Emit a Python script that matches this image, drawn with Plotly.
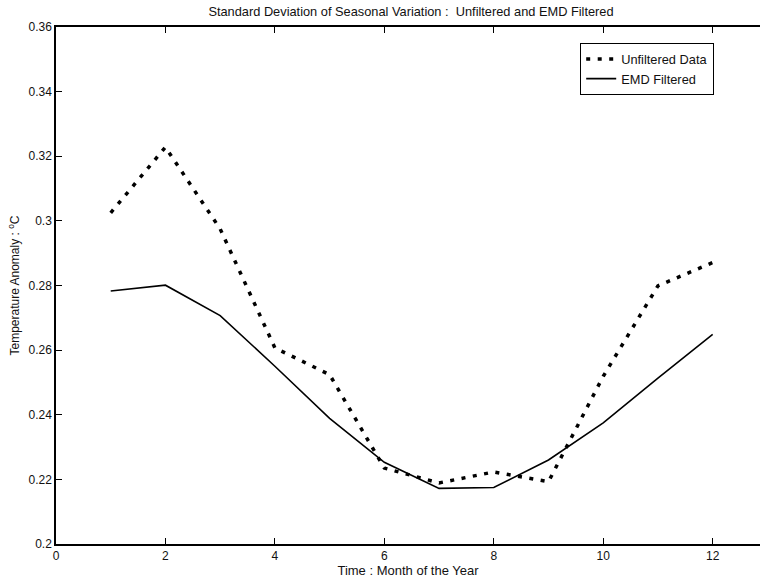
import plotly.graph_objects as go

months = [1, 2, 3, 4, 5, 6, 7, 8, 9, 10, 11, 12]
unfiltered = [0.3025, 0.3228, 0.2975, 0.2607, 0.2524, 0.2235, 0.2189, 0.2223, 0.2193, 0.2519, 0.2799, 0.2871]
emd_filtered = [0.2783, 0.2801, 0.2707, 0.2550, 0.2389, 0.2253, 0.2172, 0.2175, 0.2260, 0.2375, 0.2513, 0.2649]

x_ticks = [0, 2, 4, 6, 8, 10, 12]
y_ticks = [0.2, 0.22, 0.24, 0.26, 0.28, 0.3, 0.32, 0.34, 0.36]
y_ticklabels = ["0.2", "0.22", "0.24", "0.26", "0.28", "0.3", "0.32", "0.34", "0.36"]

FONT = "Liberation Sans, Arial, Helvetica, sans-serif"

fig = go.Figure()
fig.add_trace(go.Scatter(
    x=months, y=unfiltered, mode="lines", name="Unfiltered Data",
    line=dict(color="black", width=3.5, dash="4px,7.5px"),
))
fig.add_trace(go.Scatter(
    x=months, y=emd_filtered, mode="lines", name="EMD Filtered",
    line=dict(color="black", width=1.6),
))

fig.update_layout(
    width=760, height=581,
    margin=dict(l=56, r=0, t=27, b=37),
    paper_bgcolor="white", plot_bgcolor="white",
    font=dict(family=FONT, size=12, color="#111111"),
    title=dict(
        text="Standard Deviation of Seasonal Variation :  Unfiltered and EMD Filtered",
        x=411 / 760, xanchor="center", y=1 - 12 / 581, yanchor="middle",
        font=dict(size=12.8),
    ),
    showlegend=True,
    legend=dict(
        x=(714 - 56) / 704, xanchor="right",
        y=1 - (43 - 27) / 517, yanchor="top",
        bordercolor="black", borderwidth=1.2, bgcolor="white",
        font=dict(size=12.8),
        tracegroupgap=0,
        itemwidth=30,
    ),
)

fig.update_xaxes(
    range=[0, 12.865],
    tickvals=x_ticks, ticktext=[str(v) for v in x_ticks],
    ticks="inside", ticklen=6, tickcolor="black", tickwidth=1,
    showline=True, linecolor="black", linewidth=1.5, mirror="ticks",
    showgrid=False, zeroline=False,
    tickfont=dict(size=12),
    title=dict(text="Time : Month of the Year", font=dict(size=13), standoff=3),
)
fig.update_yaxes(
    range=[0.2, 0.36],
    tickvals=y_ticks, ticktext=y_ticklabels,
    ticks="inside", ticklen=6, tickcolor="black", tickwidth=1,
    showline=True, linecolor="black", linewidth=1.5, mirror=False,
    showgrid=False, zeroline=False,
    tickfont=dict(size=12),
    title=dict(text="Temperature Anomaly : <sup>o</sup>C", font=dict(size=12), standoff=6),
)

fig.write_html("out.html")
